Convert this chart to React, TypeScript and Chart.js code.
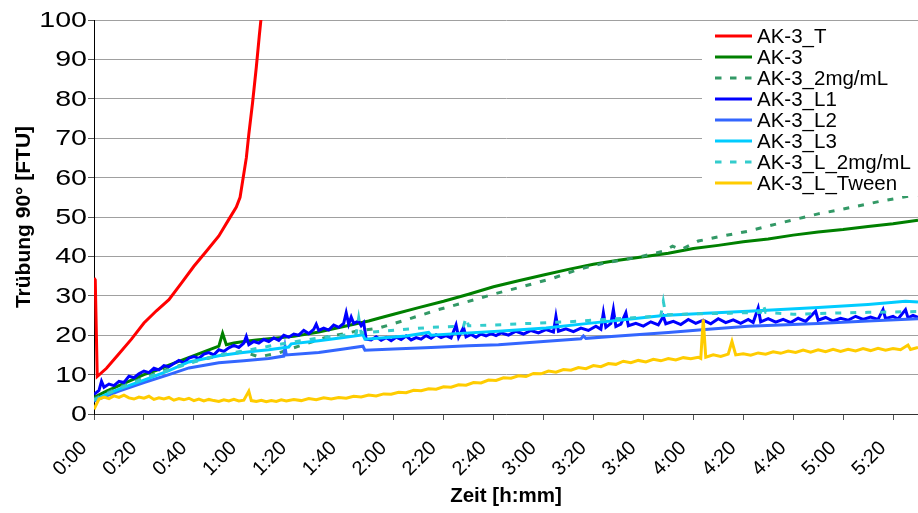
import React, { useEffect, useRef } from "react";
import { Chart, registerables } from "chart.js";

Chart.register(...registerables);

// Time in minutes, turbidity in FTU
const seriesNames = [
  "AK-3_T",
  "AK-3",
  "AK-3_2mg/mL",
  "AK-3_L1",
  "AK-3_L2",
  "AK-3_L3",
  "AK-3_L_2mg/mL",
  "AK-3_L_Tween",
];

const seriesColors = ["#FF0000", "#008000", "#339966", "#0000FF", "#3366FF", "#00CCFF", "#33CCCC", "#FFCC00"];
const seriesDashed = [false, false, true, false, false, false, true, false];

const ak3T: [number, number][] = [
  [0, 34.5], [0.5, 34], [1.3, 9.5], [5, 11.6], [10, 15.3], [15, 19.0], [20, 23.1], [25, 26.2],
  [30, 29.0], [35, 33.2], [40, 37.5], [45, 41.3], [50, 45.2], [54, 49.4], [57, 52.5], [58.5, 55],
  [59.5, 59], [61, 65], [62, 71], [63.5, 79], [65, 88], [66.2, 96], [67, 101], [67.5, 104],
];

const ak3: [number, number][] = [
  [0, 4.2], [5, 5.8], [10, 7.2], [15, 8.6], [20, 10.0], [25, 11.1], [30, 12.4], [35, 13.6],
  [40, 14.8], [45, 16.0], [50, 17.2], [51.5, 20.5], [53, 17.6], [56, 18.0], [60, 18.4], [65, 18.8],
  [70, 19.1], [80, 19.7], [90, 20.8], [100, 22.2], [110, 23.6], [114, 24.3], [120, 25.3], [130, 27.0],
  [140, 28.6], [150, 30.4], [160, 32.3], [170, 33.8], [180, 35.3], [190, 36.7], [200, 38.0], [210, 39.0],
  [220, 39.9], [230, 40.8], [240, 42.0], [250, 42.8], [260, 43.7], [270, 44.4], [280, 45.4], [290, 46.2],
  [300, 46.8], [310, 47.6], [320, 48.3], [330, 49.2],
];

const ak3Conc: [number, number][] = [
  [0, 3.8], [10, 6.8], [20, 9.2], [30, 11.5], [40, 13.3], [50, 14.8], [60, 15.8], [66, 14.5],
  [74, 15.5], [80, 16.8], [93, 19.5], [105, 21.0], [114, 21.8], [126, 24.1], [138, 26.5], [149, 28.4],
  [161, 30.6], [172, 32.4], [184, 34.5], [194, 36.7], [205, 38.4], [218, 39.8], [228, 41.3], [231.7, 42.6],
  [235, 41.7], [242, 43.9], [252, 45.2], [262, 46.4], [275, 48.5], [290, 50.8], [300, 52.0], [315, 54.0],
  [330, 55.7],
];

const ak3L1: [number, number][] = [
  [0, 5.0], [2, 6.0], [3, 8.3], [4, 6.8], [6, 7.6], [8, 7.2], [10, 8.3], [12, 8.0], [14, 9.6], [16, 9.2],
  [18, 10.2], [20, 10.9], [22, 10.5], [24, 11.6], [26, 11.2], [28, 12.3], [30, 12.0], [32, 12.8], [34, 13.6],
  [36, 13.0], [38, 14.2], [40, 14.6], [42, 14.1], [44, 15.2], [46, 15.6], [48, 15.0], [50, 16.3], [52, 15.9],
  [54, 16.8], [56, 17.4], [58, 16.9], [60, 18.0], [61, 19.7], [62, 17.6], [64, 18.4], [66, 18.0], [68, 18.9],
  [70, 18.4], [72, 19.3], [74, 18.7], [76, 20.0], [78, 19.5], [80, 20.3], [82, 20.0], [84, 21.2], [86, 20.4],
  [88, 21.5], [89, 22.8], [90, 21.2], [92, 21.8], [94, 21.3], [96, 22.6], [98, 22.0], [100, 23.0], [101, 25.7],
  [102, 22.8], [103, 24.6], [104, 23.0], [106, 23.6], [107, 22.4], [108, 23.2], [109, 19.0], [111, 18.8],
  [113, 19.6], [115, 18.7], [117, 19.4], [119, 18.6], [121, 19.5], [123, 18.9], [125, 19.8], [127, 18.8],
  [129, 19.4], [131, 19.0], [133, 19.9], [135, 19.2], [137, 20.1], [139, 19.4], [141, 19.9], [143, 19.3],
  [145, 22.6], [146, 19.5], [148, 22.0], [149, 19.6], [151, 20.2], [153, 19.5], [155, 20.3], [157, 19.8],
  [159, 20.4], [161, 19.9], [163, 20.6], [166, 20.0], [169, 21.0], [172, 20.3], [175, 21.2], [178, 20.6],
  [181, 21.4], [184, 20.8], [185, 24.8], [186, 21.0], [189, 21.6], [192, 20.9], [195, 21.8], [198, 21.2],
  [201, 22.3], [203, 21.5], [204, 25.7], [205, 22.0], [207, 23.0], [208, 26.5], [209, 22.2], [211, 22.8],
  [213, 25.7], [214, 22.4], [217, 23.0], [220, 22.3], [223, 23.4], [226, 22.6], [228, 24.8], [229, 22.9],
  [232, 23.5], [235, 22.7], [238, 24.0], [241, 23.0], [244, 23.8], [247, 22.9], [250, 24.2], [253, 23.2],
  [256, 23.9], [259, 23.0], [262, 24.0], [264, 23.2], [266, 26.9], [267, 23.4], [270, 24.2], [273, 23.3],
  [276, 24.0], [279, 23.2], [282, 24.3], [285, 23.5], [289, 26.1], [290, 23.8], [293, 24.5], [296, 23.6],
  [299, 24.3], [302, 23.8], [305, 24.8], [308, 24.0], [311, 24.6], [314, 24.0], [316, 26.5], [317, 24.2],
  [320, 24.8], [322, 24.1], [325, 26.5], [326, 24.4], [328, 25.0], [330, 24.5],
];

const ak3L2: [number, number][] = [
  [0, 3.3], [5, 4.6], [10, 5.8], [20, 8.0], [30, 10.0], [38, 11.7], [50, 13.0], [60, 13.5], [70, 14.1],
  [76, 14.7], [76.5, 17.0], [77, 15.0], [90, 15.6], [100, 16.5], [107.7, 17.2], [108.5, 16.2], [120, 16.5],
  [135, 16.9], [150, 17.3], [162, 17.6], [180, 18.4], [195, 19.1], [196, 19.8], [197, 19.2], [210, 19.8],
  [230, 20.7], [246, 21.5], [262, 22.3], [290, 23.0], [310, 23.6], [330, 24.2],
];

const ak3L3: [number, number][] = [
  [0, 3.5], [5, 5.0], [10, 6.3], [20, 8.6], [30, 11.0], [38, 13.2], [50, 14.8], [58, 15.5], [65, 16.0],
  [70, 16.3], [78, 17.0], [79, 17.8], [90, 18.6], [100, 19.4], [107.7, 20.1], [108.5, 19.0], [115, 19.3],
  [125, 19.8], [134, 20.7], [135, 20.0], [145, 20.4], [162, 21.0], [181, 21.8], [198, 23.0], [213, 24.0],
  [228, 25.0], [245, 25.6], [262, 26.1], [290, 27.0], [310, 27.8], [325, 28.6], [330, 28.4],
];

const ak3LConc: [number, number][] = [
  [0, 3.6], [10, 6.5], [20, 9.0], [30, 11.2], [40, 13.2], [50, 15.0], [60, 16.0], [70, 17.2], [80, 18.3],
  [90, 19.3], [100, 20.0], [105, 20.4], [106, 24.4], [107, 20.6], [115, 21.0], [125, 21.5], [135, 22.0],
  [148, 22.3], [149, 24.5], [150, 22.4], [160, 22.6], [175, 23.0], [190, 23.4], [205, 24.0], [220, 24.6],
  [227, 25.0], [228, 28.6], [229, 25.2], [240, 25.4], [255, 25.6], [267, 25.8], [268, 27.8], [269, 25.8],
  [280, 25.3], [295, 25.6], [310, 25.8], [330, 26.0],
];

const ak3LTween: [number, number][] = [
  [0, 1.2], [1, 2.5], [2, 3.8], [4, 4.3], [6, 3.9], [8, 4.6], [10, 4.2], [12, 4.8], [14, 4.1], [16, 3.8],
  [18, 4.3], [20, 4.0], [22, 4.5], [24, 3.7], [26, 4.1], [28, 3.8], [30, 4.2], [32, 3.5], [34, 3.9], [36, 3.6],
  [38, 4.0], [40, 3.4], [42, 3.8], [44, 3.3], [46, 3.7], [48, 3.4], [50, 3.2], [52, 3.6], [54, 3.3], [56, 3.7],
  [58, 3.3], [60, 3.5], [62, 5.8], [63, 3.4], [65, 3.2], [67, 3.5], [69, 3.1], [71, 3.4], [73, 3.2], [75, 3.6],
  [77, 3.3], [80, 3.7], [83, 3.4], [86, 3.9], [89, 3.6], [92, 4.1], [95, 3.8], [98, 4.2], [101, 4.0], [104, 4.5],
  [107, 4.3], [110, 4.8], [113, 4.6], [116, 5.1], [119, 5.0], [122, 5.5], [125, 5.4], [128, 6.0], [131, 5.9],
  [134, 6.4], [137, 6.3], [140, 6.9], [143, 6.8], [146, 7.4], [149, 7.3], [152, 8.0], [155, 7.9], [158, 8.6],
  [161, 8.5], [164, 9.2], [167, 9.1], [170, 9.7], [173, 9.5], [176, 10.3], [179, 10.2], [182, 10.9], [185, 10.6],
  [188, 11.3], [191, 11.1], [194, 11.8], [197, 11.5], [200, 12.3], [203, 12.0], [206, 12.8], [209, 12.6],
  [212, 13.4], [215, 13.0], [218, 13.6], [221, 13.2], [224, 13.9], [227, 13.5], [230, 14.1], [233, 13.7],
  [236, 14.3], [239, 14.0], [242, 14.4], [243, 14.1], [244, 24.0], [245, 14.4], [248, 15.0], [251, 14.6],
  [254, 15.2], [255.5, 18.4], [257, 15.0], [260, 15.3], [263, 14.9], [266, 15.5], [269, 15.2], [272, 15.8],
  [275, 15.4], [278, 16.0], [281, 15.6], [284, 16.2], [287, 15.7], [290, 16.3], [293, 15.8], [296, 16.4],
  [299, 15.9], [302, 16.4], [305, 16.0], [308, 16.6], [311, 16.1], [314, 16.7], [317, 16.2], [320, 16.6],
  [323, 16.3], [326, 17.5], [327, 16.4], [330, 16.9],
];

const seriesData = [ak3T, ak3, ak3Conc, ak3L1, ak3L2, ak3L3, ak3LConc, ak3LTween];

const xTickValues = [0, 20, 40, 60, 80, 100, 120, 140, 160, 180, 200, 220, 240, 260, 280, 300, 320];
const yTickValues = [0, 10, 20, 30, 40, 50, 60, 70, 80, 90, 100];
const xMax = 330;
const yMax = 100;

const FONT = "'Liberation Sans', Arial, sans-serif";

function formatTime(v: number): string {
  const h = Math.floor(v / 60);
  const m = Math.round(v % 60);
  return `${h}:${String(m).padStart(2, "0")}`;
}

// Tick labels drawn by hand: slanted time labels below the x axis, wide numerals left of the y axis
const tickLabelPlugin = {
  id: "tickLabels",
  afterDraw(chart: any) {
    const ctx = chart.ctx as CanvasRenderingContext2D;
    const xs = chart.scales.x;
    const ys = chart.scales.y;
    ctx.save();
    ctx.fillStyle = "#000000";

    ctx.font = `20px ${FONT}`;
    ctx.textAlign = "right";
    ctx.textBaseline = "middle";
    xTickValues.forEach((v) => {
      const px = xs.getPixelForValue(v);
      ctx.save();
      ctx.translate(px - 10, xs.top + 31);
      ctx.rotate(-Math.PI / 4);
      ctx.fillText(formatTime(v), 0, 0);
      ctx.restore();
    });

    ctx.font = `22px ${FONT}`;
    ctx.textAlign = "right";
    ctx.textBaseline = "middle";
    yTickValues.forEach((v) => {
      const py = ys.getPixelForValue(v);
      ctx.save();
      ctx.translate(ys.right - 7, py + 1);
      ctx.scale(1.3, 1);
      ctx.fillText(String(v), 0, 0);
      ctx.restore();
    });
    ctx.restore();
  },
};

const legendPlugin = {
  id: "seriesLegend",
  afterDatasetsDraw(chart: any) {
    const ctx = chart.ctx as CanvasRenderingContext2D;
    ctx.save();
    ctx.fillStyle = "#ffffff";
    ctx.fillRect(702, 24, 216, 172);
    const rowTop = 36;
    const rowGap = 21;
    chart.data.datasets.forEach((ds: any, i: number) => {
      const y = rowTop + i * rowGap;
      ctx.beginPath();
      ctx.strokeStyle = ds.borderColor;
      ctx.lineWidth = 3;
      ctx.setLineDash(ds.borderDash && ds.borderDash.length ? [6.5, 8.5] : []);
      ctx.moveTo(715, y);
      ctx.lineTo(752, y);
      ctx.stroke();
      ctx.setLineDash([]);
      ctx.fillStyle = "#000000";
      ctx.font = `20.5px ${FONT}`;
      ctx.textAlign = "left";
      ctx.textBaseline = "middle";
      ctx.fillText(ds.label, 757, y + 1);
    });
    ctx.restore();
  },
};

export default function App() {
  const canvasRef = useRef<HTMLCanvasElement | null>(null);

  useEffect(() => {
    document.body.style.margin = "0";
    const canvas = canvasRef.current;
    if (!canvas) return;

    const datasets = seriesNames.map((name, i) => ({
      label: name,
      data: seriesData[i].map(([x, y]) => ({ x, y })),
      borderColor: seriesColors[i],
      backgroundColor: seriesColors[i],
      borderWidth: 3,
      borderDash: seriesDashed[i] ? [6, 9] : [],
      pointRadius: 0,
      tension: 0,
      fill: false,
      order: seriesNames.length - i,
    }));

    const chart = new Chart(canvas, {
      type: "line",
      data: { datasets },
      plugins: [legendPlugin, tickLabelPlugin],
      options: {
        responsive: false,
        animation: false,
        devicePixelRatio: 1,
        layout: { padding: { top: 20, right: 0, bottom: 0, left: 0 } },
        plugins: {
          legend: { display: false },
          tooltip: { enabled: false },
        },
        scales: {
          x: {
            type: "linear",
            min: 0,
            max: xMax,
            afterBuildTicks: (scale: any) => {
              scale.ticks = xTickValues.map((v) => ({ value: v }));
            },
            afterFit: (scale: any) => {
              scale.height = 99;
            },
            ticks: { display: false, autoSkip: false },
            grid: {
              display: true,
              drawOnChartArea: false,
              drawTicks: true,
              tickLength: 6,
              tickColor: "#555555",
            },
            border: { display: true, color: "#333333", width: 1 },
            title: {
              display: true,
              text: "Zeit [h:mm]",
              color: "#000000",
              font: { family: FONT, size: 20.5, weight: "bold" },
              padding: { top: 0, bottom: 4 },
            },
          },
          y: {
            type: "linear",
            min: 0,
            max: yMax,
            afterBuildTicks: (scale: any) => {
              scale.ticks = yTickValues.map((v) => ({ value: v }));
            },
            afterFit: (scale: any) => {
              scale.width = 94;
            },
            ticks: { display: false },
            grid: {
              display: true,
              color: "#a0a0a0",
              lineWidth: 1,
              drawTicks: true,
              tickLength: 6,
              tickColor: "#555555",
            },
            border: { display: true, color: "#000000", width: 1 },
            title: {
              display: true,
              text: "Trübung 90° [FTU]",
              color: "#000000",
              font: { family: FONT, size: 21, weight: "bold" },
              padding: { top: 12, bottom: 0 },
            },
          },
        },
      },
    } as any);

    return () => chart.destroy();
  }, []);

  return (
    <div style={{ width: 918, height: 513, background: "#ffffff" }}>
      <canvas ref={canvasRef} width={918} height={513} style={{ display: "block" }} />
    </div>
  );
}
